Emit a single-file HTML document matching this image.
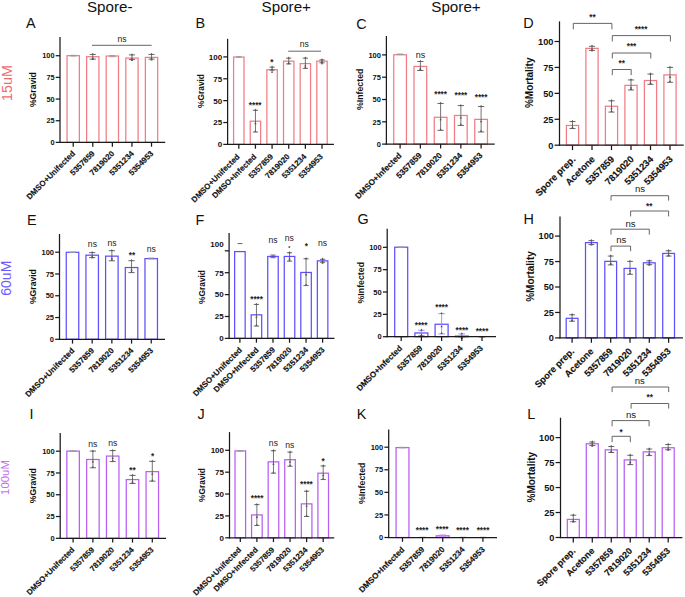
<!DOCTYPE html>
<html><head><meta charset="utf-8"><style>
html,body{margin:0;padding:0;background:#fff;overflow:hidden;}
svg{display:block;font-family:"Liberation Sans", sans-serif;}
.xl{stroke:#111;stroke-width:0.15px;}
</style></head><body>
<svg width="685" height="597" viewBox="0 0 685 597">
<rect width="685" height="597" fill="#fff"/>
<rect x="67.05" y="55.67" width="12.30" height="86.73" fill="#fff" stroke="#f17c85" stroke-width="1.25"/>
<rect x="86.63" y="56.72" width="12.30" height="85.68" fill="#fff" stroke="#f17c85" stroke-width="1.25"/>
<rect x="106.21" y="56.02" width="12.30" height="86.38" fill="#fff" stroke="#f17c85" stroke-width="1.25"/>
<rect x="125.79" y="58.10" width="12.30" height="84.30" fill="#fff" stroke="#f17c85" stroke-width="1.25"/>
<rect x="145.37" y="57.41" width="12.30" height="84.99" fill="#fff" stroke="#f17c85" stroke-width="1.25"/>
<line x1="73.20" y1="55.33" x2="73.20" y2="56.02" stroke="#9a9a9a" stroke-width="0.8"/>
<line x1="70.12" y1="55.33" x2="76.28" y2="55.33" stroke="#9a9a9a" stroke-width="0.85"/>
<line x1="70.12" y1="56.02" x2="76.28" y2="56.02" stroke="#9a9a9a" stroke-width="0.85"/>
<line x1="92.78" y1="54.46" x2="92.78" y2="59.15" stroke="#505050" stroke-width="0.8"/>
<line x1="89.70" y1="54.46" x2="95.86" y2="54.46" stroke="#505050" stroke-width="0.85"/>
<line x1="89.70" y1="59.15" x2="95.86" y2="59.15" stroke="#505050" stroke-width="0.85"/>
<path d="M91.58,54.86L93.98,54.86L92.78,52.76Z" fill="#555"/>
<path d="M91.58,59.72L93.98,59.72L92.78,57.62Z" fill="#555"/>
<path d="M91.58,59.15L93.98,59.15L92.78,57.05Z" fill="#555"/>
<line x1="112.36" y1="55.59" x2="112.36" y2="56.72" stroke="#9a9a9a" stroke-width="0.8"/>
<line x1="109.28" y1="55.59" x2="115.44" y2="55.59" stroke="#9a9a9a" stroke-width="0.85"/>
<line x1="109.28" y1="56.72" x2="115.44" y2="56.72" stroke="#9a9a9a" stroke-width="0.85"/>
<line x1="131.94" y1="54.89" x2="131.94" y2="59.58" stroke="#505050" stroke-width="0.8"/>
<line x1="128.87" y1="54.89" x2="135.01" y2="54.89" stroke="#505050" stroke-width="0.85"/>
<line x1="128.87" y1="59.58" x2="135.01" y2="59.58" stroke="#505050" stroke-width="0.85"/>
<path d="M130.74,55.29L133.14,55.29L131.94,53.19Z" fill="#555"/>
<path d="M130.74,61.10L133.14,61.10L131.94,59.00Z" fill="#555"/>
<path d="M130.74,59.58L133.14,59.58L131.94,57.48Z" fill="#555"/>
<line x1="151.52" y1="54.46" x2="151.52" y2="59.15" stroke="#505050" stroke-width="0.8"/>
<line x1="148.44" y1="54.46" x2="154.59" y2="54.46" stroke="#505050" stroke-width="0.85"/>
<line x1="148.44" y1="59.15" x2="154.59" y2="59.15" stroke="#505050" stroke-width="0.85"/>
<path d="M150.32,54.86L152.72,54.86L151.52,52.76Z" fill="#555"/>
<path d="M150.32,60.41L152.72,60.41L151.52,58.31Z" fill="#555"/>
<path d="M150.32,59.15L152.72,59.15L151.52,57.05Z" fill="#555"/>
<line x1="60.00" y1="37.00" x2="60.00" y2="143.03" stroke="#1a1a1a" stroke-width="1.25"/>
<line x1="59.38" y1="142.40" x2="165.20" y2="142.40" stroke="#1a1a1a" stroke-width="1.25"/>
<line x1="55.70" y1="142.40" x2="60.00" y2="142.40" stroke="#1a1a1a" stroke-width="1.25"/>
<text x="54.50" y="145.03" font-size="7.3" text-anchor="end" font-weight="bold" fill="#111">0</text>
<line x1="55.70" y1="120.73" x2="60.00" y2="120.73" stroke="#1a1a1a" stroke-width="1.25"/>
<text x="54.50" y="123.36" font-size="7.3" text-anchor="end" font-weight="bold" fill="#111">25</text>
<line x1="55.70" y1="99.06" x2="60.00" y2="99.06" stroke="#1a1a1a" stroke-width="1.25"/>
<text x="54.50" y="101.69" font-size="7.3" text-anchor="end" font-weight="bold" fill="#111">50</text>
<line x1="55.70" y1="77.39" x2="60.00" y2="77.39" stroke="#1a1a1a" stroke-width="1.25"/>
<text x="54.50" y="80.02" font-size="7.3" text-anchor="end" font-weight="bold" fill="#111">75</text>
<line x1="55.70" y1="55.72" x2="60.00" y2="55.72" stroke="#1a1a1a" stroke-width="1.25"/>
<text x="54.50" y="58.35" font-size="7.3" text-anchor="end" font-weight="bold" fill="#111">100</text>
<line x1="73.20" y1="142.40" x2="73.20" y2="146.70" stroke="#1a1a1a" stroke-width="1.25"/>
<line x1="92.78" y1="142.40" x2="92.78" y2="146.70" stroke="#1a1a1a" stroke-width="1.25"/>
<line x1="112.36" y1="142.40" x2="112.36" y2="146.70" stroke="#1a1a1a" stroke-width="1.25"/>
<line x1="131.94" y1="142.40" x2="131.94" y2="146.70" stroke="#1a1a1a" stroke-width="1.25"/>
<line x1="151.52" y1="142.40" x2="151.52" y2="146.70" stroke="#1a1a1a" stroke-width="1.25"/>
<text x="75.70" y="154.00" font-size="7.99" text-anchor="end" font-weight="bold" fill="#111" transform="rotate(-45 75.70 154.00)" class="xl">DMSO+Unifected</text>
<text x="95.28" y="154.00" font-size="7.99" text-anchor="end" font-weight="bold" fill="#111" transform="rotate(-45 95.28 154.00)" class="xl">5357859</text>
<text x="114.86" y="154.00" font-size="7.99" text-anchor="end" font-weight="bold" fill="#111" transform="rotate(-45 114.86 154.00)" class="xl">7819020</text>
<text x="134.44" y="154.00" font-size="7.99" text-anchor="end" font-weight="bold" fill="#111" transform="rotate(-45 134.44 154.00)" class="xl">5351234</text>
<text x="154.02" y="154.00" font-size="7.99" text-anchor="end" font-weight="bold" fill="#111" transform="rotate(-45 154.02 154.00)" class="xl">5354953</text>
<text x="36.00" y="89.60" font-size="8.6" text-anchor="middle" font-weight="bold" fill="#111" transform="rotate(-90 36.00 89.60)">%Gravid</text>
<text x="30.90" y="28.40" font-size="14.4" text-anchor="middle" font-weight="normal" fill="#111">A</text>
<text x="122.00" y="41.74" font-size="8.6" text-anchor="middle" font-weight="normal" fill="#222">ns</text>
<line x1="92.00" y1="45.30" x2="151.60" y2="45.30" stroke="#666" stroke-width="1.0"/>
<rect x="233.60" y="57.04" width="10.40" height="87.36" fill="#fff" stroke="#f17c85" stroke-width="1.25"/>
<rect x="250.24" y="121.20" width="10.40" height="23.20" fill="#fff" stroke="#f17c85" stroke-width="1.25"/>
<rect x="266.88" y="69.70" width="10.40" height="74.70" fill="#fff" stroke="#f17c85" stroke-width="1.25"/>
<rect x="283.52" y="61.14" width="10.40" height="83.26" fill="#fff" stroke="#f17c85" stroke-width="1.25"/>
<rect x="300.16" y="63.58" width="10.40" height="80.82" fill="#fff" stroke="#f17c85" stroke-width="1.25"/>
<rect x="316.80" y="61.14" width="10.40" height="83.26" fill="#fff" stroke="#f17c85" stroke-width="1.25"/>
<line x1="238.80" y1="56.60" x2="238.80" y2="57.30" stroke="#9a9a9a" stroke-width="0.8"/>
<line x1="236.20" y1="56.60" x2="241.40" y2="56.60" stroke="#9a9a9a" stroke-width="0.85"/>
<line x1="236.20" y1="57.30" x2="241.40" y2="57.30" stroke="#9a9a9a" stroke-width="0.85"/>
<line x1="255.44" y1="110.29" x2="255.44" y2="132.03" stroke="#505050" stroke-width="0.8"/>
<line x1="252.84" y1="110.29" x2="258.04" y2="110.29" stroke="#505050" stroke-width="0.85"/>
<line x1="252.84" y1="132.03" x2="258.04" y2="132.03" stroke="#505050" stroke-width="0.85"/>
<path d="M254.24,110.69L256.64,110.69L255.44,108.59Z" fill="#555"/>
<path d="M254.24,124.20L256.64,124.20L255.44,122.10Z" fill="#555"/>
<path d="M254.24,132.03L256.64,132.03L255.44,129.93Z" fill="#555"/>
<line x1="272.08" y1="67.16" x2="272.08" y2="70.13" stroke="#505050" stroke-width="0.8"/>
<line x1="269.48" y1="67.16" x2="274.68" y2="67.16" stroke="#505050" stroke-width="0.85"/>
<line x1="269.48" y1="70.13" x2="274.68" y2="70.13" stroke="#505050" stroke-width="0.85"/>
<path d="M270.88,67.56L273.28,67.56L272.08,65.46Z" fill="#555"/>
<path d="M270.88,72.70L273.28,72.70L272.08,70.60Z" fill="#555"/>
<path d="M270.88,70.13L273.28,70.13L272.08,68.03Z" fill="#555"/>
<line x1="288.72" y1="58.17" x2="288.72" y2="63.93" stroke="#505050" stroke-width="0.8"/>
<line x1="286.12" y1="58.17" x2="291.32" y2="58.17" stroke="#505050" stroke-width="0.85"/>
<line x1="286.12" y1="63.93" x2="291.32" y2="63.93" stroke="#505050" stroke-width="0.85"/>
<path d="M287.52,58.57L289.92,58.57L288.72,56.47Z" fill="#555"/>
<path d="M287.52,64.14L289.92,64.14L288.72,62.04Z" fill="#555"/>
<path d="M287.52,63.93L289.92,63.93L288.72,61.83Z" fill="#555"/>
<line x1="305.36" y1="58.17" x2="305.36" y2="68.39" stroke="#505050" stroke-width="0.8"/>
<line x1="302.76" y1="58.17" x2="307.96" y2="58.17" stroke="#505050" stroke-width="0.85"/>
<line x1="302.76" y1="68.39" x2="307.96" y2="68.39" stroke="#505050" stroke-width="0.85"/>
<path d="M304.16,58.57L306.56,58.57L305.36,56.47Z" fill="#555"/>
<path d="M304.16,66.58L306.56,66.58L305.36,64.48Z" fill="#555"/>
<path d="M304.16,68.39L306.56,68.39L305.36,66.29Z" fill="#555"/>
<line x1="322.00" y1="59.92" x2="322.00" y2="62.80" stroke="#505050" stroke-width="0.8"/>
<line x1="319.40" y1="59.92" x2="324.60" y2="59.92" stroke="#505050" stroke-width="0.85"/>
<line x1="319.40" y1="62.80" x2="324.60" y2="62.80" stroke="#505050" stroke-width="0.85"/>
<path d="M320.80,60.32L323.20,60.32L322.00,58.22Z" fill="#555"/>
<path d="M320.80,64.14L323.20,64.14L322.00,62.04Z" fill="#555"/>
<path d="M320.80,62.80L323.20,62.80L322.00,60.70Z" fill="#555"/>
<line x1="227.60" y1="38.80" x2="227.60" y2="145.03" stroke="#1a1a1a" stroke-width="1.25"/>
<line x1="226.97" y1="144.40" x2="333.90" y2="144.40" stroke="#1a1a1a" stroke-width="1.25"/>
<line x1="223.30" y1="144.40" x2="227.60" y2="144.40" stroke="#1a1a1a" stroke-width="1.25"/>
<text x="222.10" y="147.28" font-size="8.0" text-anchor="end" font-weight="bold" fill="#111">0</text>
<line x1="223.30" y1="122.53" x2="227.60" y2="122.53" stroke="#1a1a1a" stroke-width="1.25"/>
<text x="222.10" y="125.41" font-size="8.0" text-anchor="end" font-weight="bold" fill="#111">25</text>
<line x1="223.30" y1="100.65" x2="227.60" y2="100.65" stroke="#1a1a1a" stroke-width="1.25"/>
<text x="222.10" y="103.53" font-size="8.0" text-anchor="end" font-weight="bold" fill="#111">50</text>
<line x1="223.30" y1="78.78" x2="227.60" y2="78.78" stroke="#1a1a1a" stroke-width="1.25"/>
<text x="222.10" y="81.66" font-size="8.0" text-anchor="end" font-weight="bold" fill="#111">75</text>
<line x1="223.30" y1="56.90" x2="227.60" y2="56.90" stroke="#1a1a1a" stroke-width="1.25"/>
<text x="222.10" y="59.78" font-size="8.0" text-anchor="end" font-weight="bold" fill="#111">100</text>
<line x1="238.80" y1="144.40" x2="238.80" y2="148.70" stroke="#1a1a1a" stroke-width="1.25"/>
<line x1="255.44" y1="144.40" x2="255.44" y2="148.70" stroke="#1a1a1a" stroke-width="1.25"/>
<line x1="272.08" y1="144.40" x2="272.08" y2="148.70" stroke="#1a1a1a" stroke-width="1.25"/>
<line x1="288.72" y1="144.40" x2="288.72" y2="148.70" stroke="#1a1a1a" stroke-width="1.25"/>
<line x1="305.36" y1="144.40" x2="305.36" y2="148.70" stroke="#1a1a1a" stroke-width="1.25"/>
<line x1="322.00" y1="144.40" x2="322.00" y2="148.70" stroke="#1a1a1a" stroke-width="1.25"/>
<text x="240.30" y="157.20" font-size="7.95" text-anchor="end" font-weight="bold" fill="#111" transform="rotate(-45 240.30 157.20)" class="xl">DMSO+Unifected</text>
<text x="256.94" y="157.20" font-size="7.95" text-anchor="end" font-weight="bold" fill="#111" transform="rotate(-45 256.94 157.20)" class="xl">DMSO+Infected</text>
<text x="273.58" y="157.20" font-size="7.95" text-anchor="end" font-weight="bold" fill="#111" transform="rotate(-45 273.58 157.20)" class="xl">5357859</text>
<text x="290.22" y="157.20" font-size="7.95" text-anchor="end" font-weight="bold" fill="#111" transform="rotate(-45 290.22 157.20)" class="xl">7819020</text>
<text x="306.86" y="157.20" font-size="7.95" text-anchor="end" font-weight="bold" fill="#111" transform="rotate(-45 306.86 157.20)" class="xl">5351234</text>
<text x="323.50" y="157.20" font-size="7.95" text-anchor="end" font-weight="bold" fill="#111" transform="rotate(-45 323.50 157.20)" class="xl">5354953</text>
<text x="204.00" y="91.00" font-size="8.4" text-anchor="middle" font-weight="bold" fill="#111" transform="rotate(-90 204.00 91.00)">%Gravid</text>
<text x="200.20" y="28.40" font-size="14.4" text-anchor="middle" font-weight="normal" fill="#111">B</text>
<text x="255.20" y="107.61" font-size="8.2" text-anchor="middle" font-weight="bold" fill="#222">****</text>
<text x="271.90" y="64.91" font-size="8.2" text-anchor="middle" font-weight="bold" fill="#222">*</text>
<text x="304.20" y="47.24" font-size="8.6" text-anchor="middle" font-weight="normal" fill="#222">ns</text>
<line x1="288.20" y1="51.20" x2="321.00" y2="51.20" stroke="#666" stroke-width="1.0"/>
<rect x="393.75" y="54.75" width="12.70" height="89.35" fill="#fff" stroke="#f17c85" stroke-width="1.25"/>
<rect x="414.00" y="66.45" width="12.70" height="77.65" fill="#fff" stroke="#f17c85" stroke-width="1.25"/>
<rect x="434.25" y="117.30" width="12.70" height="26.80" fill="#fff" stroke="#f17c85" stroke-width="1.25"/>
<rect x="454.50" y="115.50" width="12.70" height="28.60" fill="#fff" stroke="#f17c85" stroke-width="1.25"/>
<rect x="474.75" y="119.37" width="12.70" height="24.73" fill="#fff" stroke="#f17c85" stroke-width="1.25"/>
<line x1="400.10" y1="54.03" x2="400.10" y2="54.57" stroke="#9a9a9a" stroke-width="0.8"/>
<line x1="396.93" y1="54.03" x2="403.28" y2="54.03" stroke="#9a9a9a" stroke-width="0.85"/>
<line x1="396.93" y1="54.57" x2="403.28" y2="54.57" stroke="#9a9a9a" stroke-width="0.85"/>
<line x1="420.35" y1="61.50" x2="420.35" y2="70.50" stroke="#505050" stroke-width="0.8"/>
<line x1="417.18" y1="61.50" x2="423.53" y2="61.50" stroke="#505050" stroke-width="0.85"/>
<line x1="417.18" y1="70.50" x2="423.53" y2="70.50" stroke="#505050" stroke-width="0.85"/>
<path d="M419.15,61.90L421.55,61.90L420.35,59.80Z" fill="#555"/>
<path d="M419.15,69.45L421.55,69.45L420.35,67.35Z" fill="#555"/>
<path d="M419.15,70.50L421.55,70.50L420.35,68.40Z" fill="#555"/>
<line x1="440.60" y1="103.44" x2="440.60" y2="130.35" stroke="#505050" stroke-width="0.8"/>
<line x1="437.43" y1="103.44" x2="443.78" y2="103.44" stroke="#505050" stroke-width="0.85"/>
<line x1="437.43" y1="130.35" x2="443.78" y2="130.35" stroke="#505050" stroke-width="0.85"/>
<path d="M439.40,103.84L441.80,103.84L440.60,101.74Z" fill="#555"/>
<path d="M439.40,120.30L441.80,120.30L440.60,118.20Z" fill="#555"/>
<path d="M439.40,130.35L441.80,130.35L440.60,128.25Z" fill="#555"/>
<line x1="460.85" y1="105.60" x2="460.85" y2="125.40" stroke="#505050" stroke-width="0.8"/>
<line x1="457.68" y1="105.60" x2="464.03" y2="105.60" stroke="#505050" stroke-width="0.85"/>
<line x1="457.68" y1="125.40" x2="464.03" y2="125.40" stroke="#505050" stroke-width="0.85"/>
<path d="M459.65,106.00L462.05,106.00L460.85,103.90Z" fill="#555"/>
<path d="M459.65,118.50L462.05,118.50L460.85,116.40Z" fill="#555"/>
<path d="M459.65,125.40L462.05,125.40L460.85,123.30Z" fill="#555"/>
<line x1="481.10" y1="106.50" x2="481.10" y2="131.97" stroke="#505050" stroke-width="0.8"/>
<line x1="477.93" y1="106.50" x2="484.28" y2="106.50" stroke="#505050" stroke-width="0.85"/>
<line x1="477.93" y1="131.97" x2="484.28" y2="131.97" stroke="#505050" stroke-width="0.85"/>
<path d="M479.90,106.90L482.30,106.90L481.10,104.80Z" fill="#555"/>
<path d="M479.90,122.37L482.30,122.37L481.10,120.27Z" fill="#555"/>
<path d="M479.90,131.97L482.30,131.97L481.10,129.87Z" fill="#555"/>
<line x1="386.40" y1="36.00" x2="386.40" y2="144.72" stroke="#1a1a1a" stroke-width="1.25"/>
<line x1="385.77" y1="144.10" x2="494.70" y2="144.10" stroke="#1a1a1a" stroke-width="1.25"/>
<line x1="382.10" y1="144.10" x2="386.40" y2="144.10" stroke="#1a1a1a" stroke-width="1.25"/>
<text x="380.90" y="146.80" font-size="7.5" text-anchor="end" font-weight="bold" fill="#111">0</text>
<line x1="382.10" y1="121.80" x2="386.40" y2="121.80" stroke="#1a1a1a" stroke-width="1.25"/>
<text x="380.90" y="124.50" font-size="7.5" text-anchor="end" font-weight="bold" fill="#111">25</text>
<line x1="382.10" y1="99.50" x2="386.40" y2="99.50" stroke="#1a1a1a" stroke-width="1.25"/>
<text x="380.90" y="102.20" font-size="7.5" text-anchor="end" font-weight="bold" fill="#111">50</text>
<line x1="382.10" y1="77.20" x2="386.40" y2="77.20" stroke="#1a1a1a" stroke-width="1.25"/>
<text x="380.90" y="79.90" font-size="7.5" text-anchor="end" font-weight="bold" fill="#111">75</text>
<line x1="382.10" y1="54.90" x2="386.40" y2="54.90" stroke="#1a1a1a" stroke-width="1.25"/>
<text x="380.90" y="57.60" font-size="7.5" text-anchor="end" font-weight="bold" fill="#111">100</text>
<line x1="400.10" y1="144.10" x2="400.10" y2="148.40" stroke="#1a1a1a" stroke-width="1.25"/>
<line x1="420.35" y1="144.10" x2="420.35" y2="148.40" stroke="#1a1a1a" stroke-width="1.25"/>
<line x1="440.60" y1="144.10" x2="440.60" y2="148.40" stroke="#1a1a1a" stroke-width="1.25"/>
<line x1="460.85" y1="144.10" x2="460.85" y2="148.40" stroke="#1a1a1a" stroke-width="1.25"/>
<line x1="481.10" y1="144.10" x2="481.10" y2="148.40" stroke="#1a1a1a" stroke-width="1.25"/>
<text x="402.00" y="156.10" font-size="8.29" text-anchor="end" font-weight="bold" fill="#111" transform="rotate(-45 402.00 156.10)" class="xl">DMSO+Infected</text>
<text x="422.25" y="156.10" font-size="8.29" text-anchor="end" font-weight="bold" fill="#111" transform="rotate(-45 422.25 156.10)" class="xl">5357859</text>
<text x="442.50" y="156.10" font-size="8.29" text-anchor="end" font-weight="bold" fill="#111" transform="rotate(-45 442.50 156.10)" class="xl">7819020</text>
<text x="462.75" y="156.10" font-size="8.29" text-anchor="end" font-weight="bold" fill="#111" transform="rotate(-45 462.75 156.10)" class="xl">5351234</text>
<text x="483.00" y="156.10" font-size="8.29" text-anchor="end" font-weight="bold" fill="#111" transform="rotate(-45 483.00 156.10)" class="xl">5354953</text>
<text x="363.20" y="89.30" font-size="8.8" text-anchor="middle" font-weight="bold" fill="#111" transform="rotate(-90 363.20 89.30)">%Infected</text>
<text x="361.50" y="29.20" font-size="14.4" text-anchor="middle" font-weight="normal" fill="#111">C</text>
<text x="420.40" y="57.64" font-size="9.0" text-anchor="middle" font-weight="normal" fill="#222">ns</text>
<text x="440.60" y="97.01" font-size="8.2" text-anchor="middle" font-weight="bold" fill="#222">****</text>
<text x="460.90" y="98.31" font-size="8.2" text-anchor="middle" font-weight="bold" fill="#222">****</text>
<text x="481.10" y="100.01" font-size="8.2" text-anchor="middle" font-weight="bold" fill="#222">****</text>
<rect x="566.40" y="125.47" width="12.20" height="19.73" fill="#fff" stroke="#f17c85" stroke-width="1.25"/>
<rect x="585.90" y="48.37" width="12.20" height="96.83" fill="#fff" stroke="#f17c85" stroke-width="1.25"/>
<rect x="605.40" y="106.24" width="12.20" height="38.96" fill="#fff" stroke="#f17c85" stroke-width="1.25"/>
<rect x="624.90" y="85.38" width="12.20" height="59.82" fill="#fff" stroke="#f17c85" stroke-width="1.25"/>
<rect x="644.40" y="80.54" width="12.20" height="64.66" fill="#fff" stroke="#f17c85" stroke-width="1.25"/>
<rect x="663.90" y="74.89" width="12.20" height="70.31" fill="#fff" stroke="#f17c85" stroke-width="1.25"/>
<line x1="572.50" y1="121.56" x2="572.50" y2="128.55" stroke="#505050" stroke-width="0.8"/>
<line x1="569.45" y1="121.56" x2="575.55" y2="121.56" stroke="#505050" stroke-width="0.85"/>
<line x1="569.45" y1="128.55" x2="575.55" y2="128.55" stroke="#505050" stroke-width="0.85"/>
<path d="M571.30,121.96L573.70,121.96L572.50,119.86Z" fill="#555"/>
<path d="M571.30,128.47L573.70,128.47L572.50,126.37Z" fill="#555"/>
<path d="M571.30,128.55L573.70,128.55L572.50,126.45Z" fill="#555"/>
<line x1="592.00" y1="46.31" x2="592.00" y2="50.42" stroke="#505050" stroke-width="0.8"/>
<line x1="588.95" y1="46.31" x2="595.05" y2="46.31" stroke="#505050" stroke-width="0.85"/>
<line x1="588.95" y1="50.42" x2="595.05" y2="50.42" stroke="#505050" stroke-width="0.85"/>
<path d="M590.80,46.71L593.20,46.71L592.00,44.61Z" fill="#555"/>
<path d="M590.80,51.37L593.20,51.37L592.00,49.27Z" fill="#555"/>
<path d="M590.80,50.42L593.20,50.42L592.00,48.32Z" fill="#555"/>
<line x1="611.50" y1="100.80" x2="611.50" y2="112.10" stroke="#505050" stroke-width="0.8"/>
<line x1="608.45" y1="100.80" x2="614.55" y2="100.80" stroke="#505050" stroke-width="0.85"/>
<line x1="608.45" y1="112.10" x2="614.55" y2="112.10" stroke="#505050" stroke-width="0.85"/>
<path d="M610.30,101.20L612.70,101.20L611.50,99.10Z" fill="#555"/>
<path d="M610.30,109.24L612.70,109.24L611.50,107.14Z" fill="#555"/>
<path d="M610.30,112.10L612.70,112.10L611.50,110.00Z" fill="#555"/>
<line x1="631.00" y1="79.93" x2="631.00" y2="90.00" stroke="#505050" stroke-width="0.8"/>
<line x1="627.95" y1="79.93" x2="634.05" y2="79.93" stroke="#505050" stroke-width="0.85"/>
<line x1="627.95" y1="90.00" x2="634.05" y2="90.00" stroke="#505050" stroke-width="0.85"/>
<path d="M629.80,80.33L632.20,80.33L631.00,78.23Z" fill="#555"/>
<path d="M629.80,88.38L632.20,88.38L631.00,86.28Z" fill="#555"/>
<path d="M629.80,90.00L632.20,90.00L631.00,87.90Z" fill="#555"/>
<line x1="650.50" y1="74.07" x2="650.50" y2="84.35" stroke="#505050" stroke-width="0.8"/>
<line x1="647.45" y1="74.07" x2="653.55" y2="74.07" stroke="#505050" stroke-width="0.85"/>
<line x1="647.45" y1="84.35" x2="653.55" y2="84.35" stroke="#505050" stroke-width="0.85"/>
<path d="M649.30,74.47L651.70,74.47L650.50,72.37Z" fill="#555"/>
<path d="M649.30,83.54L651.70,83.54L650.50,81.44Z" fill="#555"/>
<path d="M649.30,84.35L651.70,84.35L650.50,82.25Z" fill="#555"/>
<line x1="670.00" y1="67.39" x2="670.00" y2="82.29" stroke="#505050" stroke-width="0.8"/>
<line x1="666.95" y1="67.39" x2="673.05" y2="67.39" stroke="#505050" stroke-width="0.85"/>
<line x1="666.95" y1="82.29" x2="673.05" y2="82.29" stroke="#505050" stroke-width="0.85"/>
<path d="M668.80,67.79L671.20,67.79L670.00,65.69Z" fill="#555"/>
<path d="M668.80,77.89L671.20,77.89L670.00,75.79Z" fill="#555"/>
<path d="M668.80,82.29L671.20,82.29L670.00,80.19Z" fill="#555"/>
<line x1="559.50" y1="21.40" x2="559.50" y2="145.82" stroke="#1a1a1a" stroke-width="1.25"/>
<line x1="558.88" y1="145.20" x2="683.70" y2="145.20" stroke="#1a1a1a" stroke-width="1.25"/>
<line x1="554.60" y1="145.20" x2="559.50" y2="145.20" stroke="#1a1a1a" stroke-width="1.25"/>
<text x="553.40" y="148.51" font-size="9.2" text-anchor="end" font-weight="bold" fill="#111">0</text>
<line x1="554.60" y1="119.27" x2="559.50" y2="119.27" stroke="#1a1a1a" stroke-width="1.25"/>
<text x="553.40" y="122.59" font-size="9.2" text-anchor="end" font-weight="bold" fill="#111">25</text>
<line x1="554.60" y1="93.35" x2="559.50" y2="93.35" stroke="#1a1a1a" stroke-width="1.25"/>
<text x="553.40" y="96.66" font-size="9.2" text-anchor="end" font-weight="bold" fill="#111">50</text>
<line x1="554.60" y1="67.42" x2="559.50" y2="67.42" stroke="#1a1a1a" stroke-width="1.25"/>
<text x="553.40" y="70.74" font-size="9.2" text-anchor="end" font-weight="bold" fill="#111">75</text>
<line x1="554.60" y1="41.50" x2="559.50" y2="41.50" stroke="#1a1a1a" stroke-width="1.25"/>
<text x="553.40" y="44.81" font-size="9.2" text-anchor="end" font-weight="bold" fill="#111">100</text>
<line x1="572.50" y1="145.20" x2="572.50" y2="150.10" stroke="#1a1a1a" stroke-width="1.25"/>
<line x1="592.00" y1="145.20" x2="592.00" y2="150.10" stroke="#1a1a1a" stroke-width="1.25"/>
<line x1="611.50" y1="145.20" x2="611.50" y2="150.10" stroke="#1a1a1a" stroke-width="1.25"/>
<line x1="631.00" y1="145.20" x2="631.00" y2="150.10" stroke="#1a1a1a" stroke-width="1.25"/>
<line x1="650.50" y1="145.20" x2="650.50" y2="150.10" stroke="#1a1a1a" stroke-width="1.25"/>
<line x1="670.00" y1="145.20" x2="670.00" y2="150.10" stroke="#1a1a1a" stroke-width="1.25"/>
<text x="576.00" y="159.80" font-size="9.38" text-anchor="end" font-weight="bold" fill="#111" transform="rotate(-45 576.00 159.80)" class="xl">Spore prep.</text>
<text x="595.50" y="159.80" font-size="9.38" text-anchor="end" font-weight="bold" fill="#111" transform="rotate(-45 595.50 159.80)" class="xl">Acetone</text>
<text x="615.00" y="159.80" font-size="9.38" text-anchor="end" font-weight="bold" fill="#111" transform="rotate(-45 615.00 159.80)" class="xl">5357859</text>
<text x="634.50" y="159.80" font-size="9.38" text-anchor="end" font-weight="bold" fill="#111" transform="rotate(-45 634.50 159.80)" class="xl">7819020</text>
<text x="654.00" y="159.80" font-size="9.38" text-anchor="end" font-weight="bold" fill="#111" transform="rotate(-45 654.00 159.80)" class="xl">5351234</text>
<text x="673.50" y="159.80" font-size="9.38" text-anchor="end" font-weight="bold" fill="#111" transform="rotate(-45 673.50 159.80)" class="xl">5354953</text>
<text x="533.00" y="82.80" font-size="10" text-anchor="middle" font-weight="bold" fill="#111" transform="rotate(-90 533.00 82.80)">%Mortality</text>
<text x="528.50" y="28.40" font-size="14.4" text-anchor="middle" font-weight="normal" fill="#111">D</text>
<text x="592.50" y="19.91" font-size="8.2" text-anchor="middle" font-weight="bold" fill="#222">**</text>
<text x="641.00" y="32.31" font-size="8.2" text-anchor="middle" font-weight="bold" fill="#222">****</text>
<text x="631.50" y="49.31" font-size="8.2" text-anchor="middle" font-weight="bold" fill="#222">***</text>
<text x="621.80" y="65.91" font-size="8.2" text-anchor="middle" font-weight="bold" fill="#222">**</text>
<polyline points="573.30,29.30 573.30,23.40 611.90,23.40 611.90,29.30" fill="none" stroke="#555" stroke-width="0.9"/>
<polyline points="612.30,41.40 612.30,35.60 670.40,35.60 670.40,41.40" fill="none" stroke="#555" stroke-width="0.9"/>
<polyline points="612.30,58.50 612.30,53.00 650.80,53.00 650.80,58.50" fill="none" stroke="#555" stroke-width="0.9"/>
<polyline points="612.30,75.10 612.30,69.50 631.20,69.50 631.20,75.10" fill="none" stroke="#555" stroke-width="0.9"/>
<rect x="66.25" y="252.30" width="12.50" height="87.00" fill="#fff" stroke="#5f50ff" stroke-width="1.25"/>
<rect x="85.93" y="255.19" width="12.50" height="84.11" fill="#fff" stroke="#5f50ff" stroke-width="1.25"/>
<rect x="105.61" y="256.15" width="12.50" height="83.15" fill="#fff" stroke="#5f50ff" stroke-width="1.25"/>
<rect x="125.29" y="267.54" width="12.50" height="71.76" fill="#fff" stroke="#5f50ff" stroke-width="1.25"/>
<rect x="144.97" y="258.61" width="12.50" height="80.69" fill="#fff" stroke="#5f50ff" stroke-width="1.25"/>
<line x1="72.50" y1="252.04" x2="72.50" y2="252.56" stroke="#9a9a9a" stroke-width="0.8"/>
<line x1="69.38" y1="252.04" x2="75.62" y2="252.04" stroke="#9a9a9a" stroke-width="0.85"/>
<line x1="69.38" y1="252.56" x2="75.62" y2="252.56" stroke="#9a9a9a" stroke-width="0.85"/>
<line x1="92.18" y1="252.65" x2="92.18" y2="257.64" stroke="#505050" stroke-width="0.8"/>
<line x1="89.06" y1="252.65" x2="95.31" y2="252.65" stroke="#505050" stroke-width="0.85"/>
<line x1="89.06" y1="257.64" x2="95.31" y2="257.64" stroke="#505050" stroke-width="0.85"/>
<path d="M90.98,253.05L93.38,253.05L92.18,250.95Z" fill="#555"/>
<path d="M90.98,258.19L93.38,258.19L92.18,256.09Z" fill="#555"/>
<path d="M90.98,257.64L93.38,257.64L92.18,255.54Z" fill="#555"/>
<line x1="111.86" y1="250.72" x2="111.86" y2="260.80" stroke="#505050" stroke-width="0.8"/>
<line x1="108.73" y1="250.72" x2="114.98" y2="250.72" stroke="#505050" stroke-width="0.85"/>
<line x1="108.73" y1="260.80" x2="114.98" y2="260.80" stroke="#505050" stroke-width="0.85"/>
<path d="M110.66,251.12L113.06,251.12L111.86,249.02Z" fill="#555"/>
<path d="M110.66,259.15L113.06,259.15L111.86,257.05Z" fill="#555"/>
<path d="M110.66,260.80L113.06,260.80L111.86,258.70Z" fill="#555"/>
<line x1="131.54" y1="260.71" x2="131.54" y2="272.62" stroke="#505050" stroke-width="0.8"/>
<line x1="128.41" y1="260.71" x2="134.66" y2="260.71" stroke="#505050" stroke-width="0.85"/>
<line x1="128.41" y1="272.62" x2="134.66" y2="272.62" stroke="#505050" stroke-width="0.85"/>
<path d="M130.34,261.11L132.74,261.11L131.54,259.01Z" fill="#555"/>
<path d="M130.34,270.54L132.74,270.54L131.54,268.44Z" fill="#555"/>
<path d="M130.34,272.62L132.74,272.62L131.54,270.52Z" fill="#555"/>
<line x1="151.22" y1="257.99" x2="151.22" y2="259.05" stroke="#9a9a9a" stroke-width="0.8"/>
<line x1="148.09" y1="257.99" x2="154.34" y2="257.99" stroke="#9a9a9a" stroke-width="0.85"/>
<line x1="148.09" y1="259.05" x2="154.34" y2="259.05" stroke="#9a9a9a" stroke-width="0.85"/>
<line x1="59.50" y1="234.00" x2="59.50" y2="339.93" stroke="#1a1a1a" stroke-width="1.25"/>
<line x1="58.88" y1="339.30" x2="165.00" y2="339.30" stroke="#1a1a1a" stroke-width="1.25"/>
<line x1="55.20" y1="339.30" x2="59.50" y2="339.30" stroke="#1a1a1a" stroke-width="1.25"/>
<text x="54.00" y="342.00" font-size="7.5" text-anchor="end" font-weight="bold" fill="#111">0</text>
<line x1="55.20" y1="317.53" x2="59.50" y2="317.53" stroke="#1a1a1a" stroke-width="1.25"/>
<text x="54.00" y="320.23" font-size="7.5" text-anchor="end" font-weight="bold" fill="#111">25</text>
<line x1="55.20" y1="295.75" x2="59.50" y2="295.75" stroke="#1a1a1a" stroke-width="1.25"/>
<text x="54.00" y="298.45" font-size="7.5" text-anchor="end" font-weight="bold" fill="#111">50</text>
<line x1="55.20" y1="273.98" x2="59.50" y2="273.98" stroke="#1a1a1a" stroke-width="1.25"/>
<text x="54.00" y="276.68" font-size="7.5" text-anchor="end" font-weight="bold" fill="#111">75</text>
<line x1="55.20" y1="252.20" x2="59.50" y2="252.20" stroke="#1a1a1a" stroke-width="1.25"/>
<text x="54.00" y="254.90" font-size="7.5" text-anchor="end" font-weight="bold" fill="#111">100</text>
<line x1="72.50" y1="339.30" x2="72.50" y2="343.60" stroke="#1a1a1a" stroke-width="1.25"/>
<line x1="92.18" y1="339.30" x2="92.18" y2="343.60" stroke="#1a1a1a" stroke-width="1.25"/>
<line x1="111.86" y1="339.30" x2="111.86" y2="343.60" stroke="#1a1a1a" stroke-width="1.25"/>
<line x1="131.54" y1="339.30" x2="131.54" y2="343.60" stroke="#1a1a1a" stroke-width="1.25"/>
<line x1="151.22" y1="339.30" x2="151.22" y2="343.60" stroke="#1a1a1a" stroke-width="1.25"/>
<text x="75.00" y="351.10" font-size="8.08" text-anchor="end" font-weight="bold" fill="#111" transform="rotate(-45 75.00 351.10)" class="xl">DMSO+Unifected</text>
<text x="94.68" y="351.10" font-size="8.08" text-anchor="end" font-weight="bold" fill="#111" transform="rotate(-45 94.68 351.10)" class="xl">5357859</text>
<text x="114.36" y="351.10" font-size="8.08" text-anchor="end" font-weight="bold" fill="#111" transform="rotate(-45 114.36 351.10)" class="xl">7819020</text>
<text x="134.04" y="351.10" font-size="8.08" text-anchor="end" font-weight="bold" fill="#111" transform="rotate(-45 134.04 351.10)" class="xl">5351234</text>
<text x="153.72" y="351.10" font-size="8.08" text-anchor="end" font-weight="bold" fill="#111" transform="rotate(-45 153.72 351.10)" class="xl">5354953</text>
<text x="36.00" y="286.60" font-size="8.6" text-anchor="middle" font-weight="bold" fill="#111" transform="rotate(-90 36.00 286.60)">%Gravid</text>
<text x="31.80" y="224.60" font-size="14.4" text-anchor="middle" font-weight="normal" fill="#111">E</text>
<text x="92.40" y="247.04" font-size="8.6" text-anchor="middle" font-weight="normal" fill="#222">ns</text>
<text x="112.10" y="245.84" font-size="8.6" text-anchor="middle" font-weight="normal" fill="#222">ns</text>
<text x="131.90" y="257.81" font-size="8.2" text-anchor="middle" font-weight="bold" fill="#222">**</text>
<text x="151.20" y="251.84" font-size="8.6" text-anchor="middle" font-weight="normal" fill="#222">ns</text>
<rect x="234.65" y="251.60" width="10.50" height="86.80" fill="#fff" stroke="#5f50ff" stroke-width="1.25"/>
<rect x="251.19" y="314.82" width="10.50" height="23.58" fill="#fff" stroke="#5f50ff" stroke-width="1.25"/>
<rect x="267.73" y="256.45" width="10.50" height="81.95" fill="#fff" stroke="#5f50ff" stroke-width="1.25"/>
<rect x="284.27" y="256.45" width="10.50" height="81.95" fill="#fff" stroke="#5f50ff" stroke-width="1.25"/>
<rect x="300.81" y="272.47" width="10.50" height="65.93" fill="#fff" stroke="#5f50ff" stroke-width="1.25"/>
<rect x="317.35" y="260.87" width="10.50" height="77.53" fill="#fff" stroke="#5f50ff" stroke-width="1.25"/>
<line x1="256.44" y1="304.43" x2="256.44" y2="326.08" stroke="#505050" stroke-width="0.8"/>
<line x1="253.81" y1="304.43" x2="259.06" y2="304.43" stroke="#505050" stroke-width="0.85"/>
<line x1="253.81" y1="326.08" x2="259.06" y2="326.08" stroke="#505050" stroke-width="0.85"/>
<path d="M255.24,304.83L257.64,304.83L256.44,302.73Z" fill="#555"/>
<path d="M255.24,317.82L257.64,317.82L256.44,315.72Z" fill="#555"/>
<path d="M255.24,326.08L257.64,326.08L256.44,323.98Z" fill="#555"/>
<line x1="272.98" y1="255.06" x2="272.98" y2="257.66" stroke="#505050" stroke-width="0.8"/>
<line x1="270.36" y1="255.06" x2="275.61" y2="255.06" stroke="#505050" stroke-width="0.85"/>
<line x1="270.36" y1="257.66" x2="275.61" y2="257.66" stroke="#505050" stroke-width="0.85"/>
<line x1="289.52" y1="252.73" x2="289.52" y2="261.13" stroke="#505050" stroke-width="0.8"/>
<line x1="286.89" y1="252.73" x2="292.14" y2="252.73" stroke="#505050" stroke-width="0.85"/>
<line x1="286.89" y1="261.13" x2="292.14" y2="261.13" stroke="#505050" stroke-width="0.85"/>
<path d="M288.32,253.13L290.72,253.13L289.52,251.03Z" fill="#555"/>
<path d="M288.32,259.45L290.72,259.45L289.52,257.35Z" fill="#555"/>
<path d="M288.32,261.13L290.72,261.13L289.52,259.03Z" fill="#555"/>
<line x1="306.06" y1="258.79" x2="306.06" y2="285.55" stroke="#505050" stroke-width="0.8"/>
<line x1="303.44" y1="258.79" x2="308.69" y2="258.79" stroke="#505050" stroke-width="0.85"/>
<line x1="303.44" y1="285.55" x2="308.69" y2="285.55" stroke="#505050" stroke-width="0.85"/>
<path d="M304.86,259.19L307.26,259.19L306.06,257.09Z" fill="#555"/>
<path d="M304.86,275.47L307.26,275.47L306.06,273.37Z" fill="#555"/>
<path d="M304.86,285.55L307.26,285.55L306.06,283.45Z" fill="#555"/>
<line x1="322.60" y1="259.31" x2="322.60" y2="262.25" stroke="#505050" stroke-width="0.8"/>
<line x1="319.98" y1="259.31" x2="325.23" y2="259.31" stroke="#505050" stroke-width="0.85"/>
<line x1="319.98" y1="262.25" x2="325.23" y2="262.25" stroke="#505050" stroke-width="0.85"/>
<path d="M321.40,259.71L323.80,259.71L322.60,257.61Z" fill="#555"/>
<path d="M321.40,263.87L323.80,263.87L322.60,261.77Z" fill="#555"/>
<path d="M321.40,262.25L323.80,262.25L322.60,260.15Z" fill="#555"/>
<line x1="229.10" y1="233.00" x2="229.10" y2="339.02" stroke="#1a1a1a" stroke-width="1.25"/>
<line x1="228.47" y1="338.40" x2="334.50" y2="338.40" stroke="#1a1a1a" stroke-width="1.25"/>
<line x1="224.80" y1="338.40" x2="229.10" y2="338.40" stroke="#1a1a1a" stroke-width="1.25"/>
<text x="223.60" y="341.28" font-size="8.0" text-anchor="end" font-weight="bold" fill="#111">0</text>
<line x1="224.80" y1="316.50" x2="229.10" y2="316.50" stroke="#1a1a1a" stroke-width="1.25"/>
<text x="223.60" y="319.38" font-size="8.0" text-anchor="end" font-weight="bold" fill="#111">25</text>
<line x1="224.80" y1="294.60" x2="229.10" y2="294.60" stroke="#1a1a1a" stroke-width="1.25"/>
<text x="223.60" y="297.48" font-size="8.0" text-anchor="end" font-weight="bold" fill="#111">50</text>
<line x1="224.80" y1="272.70" x2="229.10" y2="272.70" stroke="#1a1a1a" stroke-width="1.25"/>
<text x="223.60" y="275.58" font-size="8.0" text-anchor="end" font-weight="bold" fill="#111">75</text>
<line x1="224.80" y1="250.80" x2="229.10" y2="250.80" stroke="#1a1a1a" stroke-width="1.25"/>
<text x="223.60" y="246.98" font-size="8.0" text-anchor="end" font-weight="bold" fill="#111">100</text>
<line x1="239.90" y1="338.40" x2="239.90" y2="342.70" stroke="#1a1a1a" stroke-width="1.25"/>
<line x1="256.44" y1="338.40" x2="256.44" y2="342.70" stroke="#1a1a1a" stroke-width="1.25"/>
<line x1="272.98" y1="338.40" x2="272.98" y2="342.70" stroke="#1a1a1a" stroke-width="1.25"/>
<line x1="289.52" y1="338.40" x2="289.52" y2="342.70" stroke="#1a1a1a" stroke-width="1.25"/>
<line x1="306.06" y1="338.40" x2="306.06" y2="342.70" stroke="#1a1a1a" stroke-width="1.25"/>
<line x1="322.60" y1="338.40" x2="322.60" y2="342.70" stroke="#1a1a1a" stroke-width="1.25"/>
<text x="242.60" y="350.40" font-size="8.07" text-anchor="end" font-weight="bold" fill="#111" transform="rotate(-45 242.60 350.40)" class="xl">DMSO+Unifected</text>
<text x="259.14" y="350.40" font-size="8.07" text-anchor="end" font-weight="bold" fill="#111" transform="rotate(-45 259.14 350.40)" class="xl">DMSO+Infected</text>
<text x="275.68" y="350.40" font-size="8.07" text-anchor="end" font-weight="bold" fill="#111" transform="rotate(-45 275.68 350.40)" class="xl">5357859</text>
<text x="292.22" y="350.40" font-size="8.07" text-anchor="end" font-weight="bold" fill="#111" transform="rotate(-45 292.22 350.40)" class="xl">7819020</text>
<text x="308.76" y="350.40" font-size="8.07" text-anchor="end" font-weight="bold" fill="#111" transform="rotate(-45 308.76 350.40)" class="xl">5351234</text>
<text x="325.30" y="350.40" font-size="8.07" text-anchor="end" font-weight="bold" fill="#111" transform="rotate(-45 325.30 350.40)" class="xl">5354953</text>
<text x="204.50" y="287.00" font-size="8.4" text-anchor="middle" font-weight="bold" fill="#111" transform="rotate(-90 204.50 287.00)">%Gravid</text>
<text x="199.90" y="224.60" font-size="14.4" text-anchor="middle" font-weight="normal" fill="#111">F</text>
<text x="256.60" y="302.01" font-size="8.2" text-anchor="middle" font-weight="bold" fill="#222">****</text>
<text x="273.00" y="242.54" font-size="8.6" text-anchor="middle" font-weight="normal" fill="#222">ns</text>
<text x="289.30" y="241.34" font-size="8.6" text-anchor="middle" font-weight="normal" fill="#222">ns</text>
<text x="289.30" y="249.65" font-size="5" text-anchor="middle" font-weight="bold" fill="#222">*</text>
<text x="306.30" y="248.81" font-size="8.2" text-anchor="middle" font-weight="bold" fill="#222">*</text>
<text x="322.60" y="246.24" font-size="8.6" text-anchor="middle" font-weight="normal" fill="#222">ns</text>
<line x1="237.50" y1="243.60" x2="242.50" y2="243.60" stroke="#666" stroke-width="1.0"/>
<rect x="394.70" y="247.20" width="13.00" height="89.50" fill="#fff" stroke="#5f50ff" stroke-width="1.25"/>
<rect x="414.90" y="332.97" width="13.00" height="3.73" fill="#fff" stroke="#5f50ff" stroke-width="1.25"/>
<rect x="435.10" y="324.24" width="13.00" height="12.46" fill="#fff" stroke="#5f50ff" stroke-width="1.25"/>
<rect x="455.30" y="336.12" width="13.00" height="0.58" fill="#fff" stroke="#5f50ff" stroke-width="1.25"/>
<line x1="401.20" y1="246.93" x2="401.20" y2="247.47" stroke="#9a9a9a" stroke-width="0.8"/>
<line x1="397.95" y1="246.93" x2="404.45" y2="246.93" stroke="#9a9a9a" stroke-width="0.85"/>
<line x1="397.95" y1="247.47" x2="404.45" y2="247.47" stroke="#9a9a9a" stroke-width="0.85"/>
<line x1="421.40" y1="330.27" x2="421.40" y2="335.67" stroke="#8a80ff" stroke-width="0.8"/>
<line x1="418.15" y1="330.27" x2="424.65" y2="330.27" stroke="#8a80ff" stroke-width="0.85"/>
<line x1="418.15" y1="335.67" x2="424.65" y2="335.67" stroke="#8a80ff" stroke-width="0.85"/>
<path d="M420.20,330.67L422.60,330.67L421.40,328.57Z" fill="#555"/>
<path d="M420.20,335.97L422.60,335.97L421.40,333.87Z" fill="#555"/>
<path d="M420.20,335.67L422.60,335.67L421.40,333.57Z" fill="#555"/>
<line x1="441.60" y1="313.71" x2="441.60" y2="333.96" stroke="#8a80ff" stroke-width="0.8"/>
<line x1="438.35" y1="313.71" x2="444.85" y2="313.71" stroke="#8a80ff" stroke-width="0.85"/>
<line x1="438.35" y1="333.96" x2="444.85" y2="333.96" stroke="#8a80ff" stroke-width="0.85"/>
<path d="M440.40,314.11L442.80,314.11L441.60,312.01Z" fill="#555"/>
<path d="M440.40,327.24L442.80,327.24L441.60,325.14Z" fill="#555"/>
<path d="M440.40,333.96L442.80,333.96L441.60,331.86Z" fill="#555"/>
<line x1="461.80" y1="333.96" x2="461.80" y2="337.20" stroke="#8a80ff" stroke-width="0.8"/>
<line x1="458.55" y1="333.96" x2="465.05" y2="333.96" stroke="#8a80ff" stroke-width="0.85"/>
<line x1="458.55" y1="337.20" x2="465.05" y2="337.20" stroke="#8a80ff" stroke-width="0.85"/>
<path d="M460.60,334.36L463.00,334.36L461.80,332.26Z" fill="#555"/>
<path d="M460.60,339.12L463.00,339.12L461.80,337.02Z" fill="#555"/>
<path d="M460.60,337.20L463.00,337.20L461.80,335.10Z" fill="#555"/>
<line x1="482.00" y1="336.75" x2="482.00" y2="337.20" stroke="#9a9a9a" stroke-width="0.8"/>
<line x1="478.75" y1="336.75" x2="485.25" y2="336.75" stroke="#9a9a9a" stroke-width="0.85"/>
<line x1="478.75" y1="337.20" x2="485.25" y2="337.20" stroke="#9a9a9a" stroke-width="0.85"/>
<line x1="387.20" y1="228.80" x2="387.20" y2="337.32" stroke="#1a1a1a" stroke-width="1.25"/>
<line x1="386.57" y1="336.70" x2="496.00" y2="336.70" stroke="#1a1a1a" stroke-width="1.25"/>
<line x1="382.90" y1="336.70" x2="387.20" y2="336.70" stroke="#1a1a1a" stroke-width="1.25"/>
<text x="381.70" y="339.40" font-size="7.5" text-anchor="end" font-weight="bold" fill="#111">0</text>
<line x1="382.90" y1="314.35" x2="387.20" y2="314.35" stroke="#1a1a1a" stroke-width="1.25"/>
<text x="381.70" y="317.05" font-size="7.5" text-anchor="end" font-weight="bold" fill="#111">25</text>
<line x1="382.90" y1="292.00" x2="387.20" y2="292.00" stroke="#1a1a1a" stroke-width="1.25"/>
<text x="381.70" y="294.70" font-size="7.5" text-anchor="end" font-weight="bold" fill="#111">50</text>
<line x1="382.90" y1="269.65" x2="387.20" y2="269.65" stroke="#1a1a1a" stroke-width="1.25"/>
<text x="381.70" y="272.35" font-size="7.5" text-anchor="end" font-weight="bold" fill="#111">75</text>
<line x1="382.90" y1="247.30" x2="387.20" y2="247.30" stroke="#1a1a1a" stroke-width="1.25"/>
<text x="381.70" y="250.00" font-size="7.5" text-anchor="end" font-weight="bold" fill="#111">100</text>
<line x1="401.20" y1="336.70" x2="401.20" y2="341.00" stroke="#1a1a1a" stroke-width="1.25"/>
<line x1="421.40" y1="336.70" x2="421.40" y2="341.00" stroke="#1a1a1a" stroke-width="1.25"/>
<line x1="441.60" y1="336.70" x2="441.60" y2="341.00" stroke="#1a1a1a" stroke-width="1.25"/>
<line x1="461.80" y1="336.70" x2="461.80" y2="341.00" stroke="#1a1a1a" stroke-width="1.25"/>
<line x1="482.00" y1="336.70" x2="482.00" y2="341.00" stroke="#1a1a1a" stroke-width="1.25"/>
<text x="402.70" y="348.70" font-size="8.16" text-anchor="end" font-weight="bold" fill="#111" transform="rotate(-45 402.70 348.70)" class="xl">DMSO+Infected</text>
<text x="422.90" y="348.70" font-size="8.16" text-anchor="end" font-weight="bold" fill="#111" transform="rotate(-45 422.90 348.70)" class="xl">5357859</text>
<text x="443.10" y="348.70" font-size="8.16" text-anchor="end" font-weight="bold" fill="#111" transform="rotate(-45 443.10 348.70)" class="xl">7819020</text>
<text x="463.30" y="348.70" font-size="8.16" text-anchor="end" font-weight="bold" fill="#111" transform="rotate(-45 463.30 348.70)" class="xl">5351234</text>
<text x="483.50" y="348.70" font-size="8.16" text-anchor="end" font-weight="bold" fill="#111" transform="rotate(-45 483.50 348.70)" class="xl">5354953</text>
<text x="364.00" y="282.70" font-size="8.8" text-anchor="middle" font-weight="bold" fill="#111" transform="rotate(-90 364.00 282.70)">%Infected</text>
<text x="363.00" y="224.20" font-size="14.4" text-anchor="middle" font-weight="normal" fill="#111">G</text>
<text x="421.10" y="327.51" font-size="8.2" text-anchor="middle" font-weight="bold" fill="#222">****</text>
<text x="441.60" y="310.31" font-size="8.2" text-anchor="middle" font-weight="bold" fill="#222">****</text>
<text x="461.90" y="333.11" font-size="8.2" text-anchor="middle" font-weight="bold" fill="#222">****</text>
<text x="482.00" y="333.81" font-size="8.2" text-anchor="middle" font-weight="bold" fill="#222">****</text>
<rect x="566.20" y="318.33" width="11.80" height="19.57" fill="#fff" stroke="#5f50ff" stroke-width="1.25"/>
<rect x="585.50" y="242.61" width="11.80" height="95.29" fill="#fff" stroke="#5f50ff" stroke-width="1.25"/>
<rect x="604.80" y="261.36" width="11.80" height="76.54" fill="#fff" stroke="#5f50ff" stroke-width="1.25"/>
<rect x="624.10" y="268.39" width="11.80" height="69.51" fill="#fff" stroke="#5f50ff" stroke-width="1.25"/>
<rect x="643.40" y="262.79" width="11.80" height="75.11" fill="#fff" stroke="#5f50ff" stroke-width="1.25"/>
<rect x="662.70" y="253.42" width="11.80" height="84.48" fill="#fff" stroke="#5f50ff" stroke-width="1.25"/>
<line x1="572.10" y1="314.76" x2="572.10" y2="321.18" stroke="#505050" stroke-width="0.8"/>
<line x1="569.15" y1="314.76" x2="575.05" y2="314.76" stroke="#505050" stroke-width="0.85"/>
<line x1="569.15" y1="321.18" x2="575.05" y2="321.18" stroke="#505050" stroke-width="0.85"/>
<path d="M570.90,315.16L573.30,315.16L572.10,313.06Z" fill="#555"/>
<path d="M570.90,321.33L573.30,321.33L572.10,319.23Z" fill="#555"/>
<path d="M570.90,321.18L573.30,321.18L572.10,319.08Z" fill="#555"/>
<line x1="591.40" y1="240.68" x2="591.40" y2="244.55" stroke="#505050" stroke-width="0.8"/>
<line x1="588.45" y1="240.68" x2="594.35" y2="240.68" stroke="#505050" stroke-width="0.85"/>
<line x1="588.45" y1="244.55" x2="594.35" y2="244.55" stroke="#505050" stroke-width="0.85"/>
<path d="M590.20,241.08L592.60,241.08L591.40,238.98Z" fill="#555"/>
<path d="M590.20,245.61L592.60,245.61L591.40,243.51Z" fill="#555"/>
<path d="M590.20,244.55L592.60,244.55L591.40,242.45Z" fill="#555"/>
<line x1="610.70" y1="256.06" x2="610.70" y2="264.93" stroke="#505050" stroke-width="0.8"/>
<line x1="607.75" y1="256.06" x2="613.65" y2="256.06" stroke="#505050" stroke-width="0.85"/>
<line x1="607.75" y1="264.93" x2="613.65" y2="264.93" stroke="#505050" stroke-width="0.85"/>
<path d="M609.50,256.46L611.90,256.46L610.70,254.36Z" fill="#555"/>
<path d="M609.50,264.36L611.90,264.36L610.70,262.26Z" fill="#555"/>
<path d="M609.50,264.93L611.90,264.93L610.70,262.83Z" fill="#555"/>
<line x1="630.00" y1="261.36" x2="630.00" y2="274.30" stroke="#505050" stroke-width="0.8"/>
<line x1="627.05" y1="261.36" x2="632.95" y2="261.36" stroke="#505050" stroke-width="0.85"/>
<line x1="627.05" y1="274.30" x2="632.95" y2="274.30" stroke="#505050" stroke-width="0.85"/>
<path d="M628.80,261.76L631.20,261.76L630.00,259.66Z" fill="#555"/>
<path d="M628.80,271.39L631.20,271.39L630.00,269.29Z" fill="#555"/>
<path d="M628.80,274.30L631.20,274.30L630.00,272.20Z" fill="#555"/>
<line x1="649.30" y1="260.85" x2="649.30" y2="264.62" stroke="#505050" stroke-width="0.8"/>
<line x1="646.35" y1="260.85" x2="652.25" y2="260.85" stroke="#505050" stroke-width="0.85"/>
<line x1="646.35" y1="264.62" x2="652.25" y2="264.62" stroke="#505050" stroke-width="0.85"/>
<path d="M648.10,261.25L650.50,261.25L649.30,259.15Z" fill="#555"/>
<path d="M648.10,265.79L650.50,265.79L649.30,263.69Z" fill="#555"/>
<path d="M648.10,264.62L650.50,264.62L649.30,262.52Z" fill="#555"/>
<line x1="668.60" y1="250.77" x2="668.60" y2="256.06" stroke="#505050" stroke-width="0.8"/>
<line x1="665.65" y1="250.77" x2="671.55" y2="250.77" stroke="#505050" stroke-width="0.85"/>
<line x1="665.65" y1="256.06" x2="671.55" y2="256.06" stroke="#505050" stroke-width="0.85"/>
<path d="M667.40,251.17L669.80,251.17L668.60,249.07Z" fill="#555"/>
<path d="M667.40,256.42L669.80,256.42L668.60,254.32Z" fill="#555"/>
<path d="M667.40,256.06L669.80,256.06L668.60,253.96Z" fill="#555"/>
<line x1="560.00" y1="216.60" x2="560.00" y2="338.52" stroke="#1a1a1a" stroke-width="1.25"/>
<line x1="559.38" y1="337.90" x2="682.90" y2="337.90" stroke="#1a1a1a" stroke-width="1.25"/>
<line x1="555.10" y1="337.90" x2="560.00" y2="337.90" stroke="#1a1a1a" stroke-width="1.25"/>
<text x="553.90" y="341.21" font-size="9.2" text-anchor="end" font-weight="bold" fill="#111">0</text>
<line x1="555.10" y1="312.45" x2="560.00" y2="312.45" stroke="#1a1a1a" stroke-width="1.25"/>
<text x="553.90" y="315.76" font-size="9.2" text-anchor="end" font-weight="bold" fill="#111">25</text>
<line x1="555.10" y1="287.00" x2="560.00" y2="287.00" stroke="#1a1a1a" stroke-width="1.25"/>
<text x="553.90" y="290.31" font-size="9.2" text-anchor="end" font-weight="bold" fill="#111">50</text>
<line x1="555.10" y1="261.55" x2="560.00" y2="261.55" stroke="#1a1a1a" stroke-width="1.25"/>
<text x="553.90" y="264.86" font-size="9.2" text-anchor="end" font-weight="bold" fill="#111">75</text>
<line x1="555.10" y1="236.10" x2="560.00" y2="236.10" stroke="#1a1a1a" stroke-width="1.25"/>
<text x="553.90" y="239.41" font-size="9.2" text-anchor="end" font-weight="bold" fill="#111">100</text>
<line x1="572.10" y1="337.90" x2="572.10" y2="342.80" stroke="#1a1a1a" stroke-width="1.25"/>
<line x1="591.40" y1="337.90" x2="591.40" y2="342.80" stroke="#1a1a1a" stroke-width="1.25"/>
<line x1="610.70" y1="337.90" x2="610.70" y2="342.80" stroke="#1a1a1a" stroke-width="1.25"/>
<line x1="630.00" y1="337.90" x2="630.00" y2="342.80" stroke="#1a1a1a" stroke-width="1.25"/>
<line x1="649.30" y1="337.90" x2="649.30" y2="342.80" stroke="#1a1a1a" stroke-width="1.25"/>
<line x1="668.60" y1="337.90" x2="668.60" y2="342.80" stroke="#1a1a1a" stroke-width="1.25"/>
<text x="574.80" y="351.90" font-size="9.25" text-anchor="end" font-weight="bold" fill="#111" transform="rotate(-45 574.80 351.90)" class="xl">Spore prep.</text>
<text x="594.10" y="351.90" font-size="9.25" text-anchor="end" font-weight="bold" fill="#111" transform="rotate(-45 594.10 351.90)" class="xl">Acetone</text>
<text x="613.40" y="351.90" font-size="9.25" text-anchor="end" font-weight="bold" fill="#111" transform="rotate(-45 613.40 351.90)" class="xl">5357859</text>
<text x="632.70" y="351.90" font-size="9.25" text-anchor="end" font-weight="bold" fill="#111" transform="rotate(-45 632.70 351.90)" class="xl">7819020</text>
<text x="652.00" y="351.90" font-size="9.25" text-anchor="end" font-weight="bold" fill="#111" transform="rotate(-45 652.00 351.90)" class="xl">5351234</text>
<text x="671.30" y="351.90" font-size="9.25" text-anchor="end" font-weight="bold" fill="#111" transform="rotate(-45 671.30 351.90)" class="xl">5354953</text>
<text x="534.00" y="276.50" font-size="10" text-anchor="middle" font-weight="bold" fill="#111" transform="rotate(-90 534.00 276.50)">%Mortality</text>
<text x="528.80" y="224.20" font-size="14.4" text-anchor="middle" font-weight="normal" fill="#111">H</text>
<text x="640.00" y="192.30" font-size="9.6" text-anchor="middle" font-weight="normal" fill="#222">ns</text>
<text x="649.30" y="209.01" font-size="8.2" text-anchor="middle" font-weight="bold" fill="#222">**</text>
<text x="630.60" y="226.60" font-size="9.6" text-anchor="middle" font-weight="normal" fill="#222">ns</text>
<text x="621.20" y="243.30" font-size="9.6" text-anchor="middle" font-weight="normal" fill="#222">ns</text>
<polyline points="611.00,200.60 611.00,195.70 668.60,195.70 668.60,200.60" fill="none" stroke="#555" stroke-width="0.9"/>
<polyline points="630.60,216.40 630.60,211.00 668.60,211.00 668.60,216.40" fill="none" stroke="#555" stroke-width="0.9"/>
<polyline points="611.00,234.60 611.00,229.20 649.30,229.20 649.30,234.60" fill="none" stroke="#555" stroke-width="0.9"/>
<polyline points="611.00,251.20 611.00,246.10 630.60,246.10 630.60,251.20" fill="none" stroke="#555" stroke-width="0.9"/>
<rect x="66.85" y="451.10" width="12.50" height="87.20" fill="#fff" stroke="#b95ef2" stroke-width="1.25"/>
<rect x="86.65" y="459.49" width="12.50" height="78.81" fill="#fff" stroke="#b95ef2" stroke-width="1.25"/>
<rect x="106.45" y="456.08" width="12.50" height="82.22" fill="#fff" stroke="#b95ef2" stroke-width="1.25"/>
<rect x="126.25" y="479.59" width="12.50" height="58.71" fill="#fff" stroke="#b95ef2" stroke-width="1.25"/>
<rect x="146.05" y="471.64" width="12.50" height="66.66" fill="#fff" stroke="#b95ef2" stroke-width="1.25"/>
<line x1="73.10" y1="450.84" x2="73.10" y2="451.36" stroke="#9a9a9a" stroke-width="0.8"/>
<line x1="69.97" y1="450.84" x2="76.22" y2="450.84" stroke="#9a9a9a" stroke-width="0.85"/>
<line x1="69.97" y1="451.36" x2="76.22" y2="451.36" stroke="#9a9a9a" stroke-width="0.85"/>
<line x1="92.90" y1="451.10" x2="92.90" y2="467.79" stroke="#505050" stroke-width="0.8"/>
<line x1="89.77" y1="451.10" x2="96.02" y2="451.10" stroke="#505050" stroke-width="0.85"/>
<line x1="89.77" y1="467.79" x2="96.02" y2="467.79" stroke="#505050" stroke-width="0.85"/>
<path d="M91.70,451.50L94.10,451.50L92.90,449.40Z" fill="#555"/>
<path d="M91.70,462.49L94.10,462.49L92.90,460.39Z" fill="#555"/>
<path d="M91.70,467.79L94.10,467.79L92.90,465.69Z" fill="#555"/>
<line x1="112.70" y1="450.58" x2="112.70" y2="461.59" stroke="#505050" stroke-width="0.8"/>
<line x1="109.57" y1="450.58" x2="115.82" y2="450.58" stroke="#505050" stroke-width="0.85"/>
<line x1="109.57" y1="461.59" x2="115.82" y2="461.59" stroke="#505050" stroke-width="0.85"/>
<path d="M111.50,450.98L113.90,450.98L112.70,448.88Z" fill="#555"/>
<path d="M111.50,459.08L113.90,459.08L112.70,456.98Z" fill="#555"/>
<path d="M111.50,461.59L113.90,461.59L112.70,459.49Z" fill="#555"/>
<line x1="132.50" y1="475.40" x2="132.50" y2="483.44" stroke="#505050" stroke-width="0.8"/>
<line x1="129.38" y1="475.40" x2="135.62" y2="475.40" stroke="#505050" stroke-width="0.85"/>
<line x1="129.38" y1="483.44" x2="135.62" y2="483.44" stroke="#505050" stroke-width="0.85"/>
<path d="M131.30,475.80L133.70,475.80L132.50,473.70Z" fill="#555"/>
<path d="M131.30,482.59L133.70,482.59L132.50,480.49Z" fill="#555"/>
<path d="M131.30,483.44L133.70,483.44L132.50,481.34Z" fill="#555"/>
<line x1="152.30" y1="461.33" x2="152.30" y2="481.17" stroke="#505050" stroke-width="0.8"/>
<line x1="149.18" y1="461.33" x2="155.43" y2="461.33" stroke="#505050" stroke-width="0.85"/>
<line x1="149.18" y1="481.17" x2="155.43" y2="481.17" stroke="#505050" stroke-width="0.85"/>
<path d="M151.10,461.73L153.50,461.73L152.30,459.63Z" fill="#555"/>
<path d="M151.10,474.64L153.50,474.64L152.30,472.54Z" fill="#555"/>
<path d="M151.10,481.17L153.50,481.17L152.30,479.07Z" fill="#555"/>
<line x1="60.20" y1="433.00" x2="60.20" y2="538.92" stroke="#1a1a1a" stroke-width="1.25"/>
<line x1="59.58" y1="538.30" x2="166.00" y2="538.30" stroke="#1a1a1a" stroke-width="1.25"/>
<line x1="55.90" y1="538.30" x2="60.20" y2="538.30" stroke="#1a1a1a" stroke-width="1.25"/>
<text x="54.70" y="541.00" font-size="7.5" text-anchor="end" font-weight="bold" fill="#111">0</text>
<line x1="55.90" y1="516.52" x2="60.20" y2="516.52" stroke="#1a1a1a" stroke-width="1.25"/>
<text x="54.70" y="519.23" font-size="7.5" text-anchor="end" font-weight="bold" fill="#111">25</text>
<line x1="55.90" y1="494.75" x2="60.20" y2="494.75" stroke="#1a1a1a" stroke-width="1.25"/>
<text x="54.70" y="497.45" font-size="7.5" text-anchor="end" font-weight="bold" fill="#111">50</text>
<line x1="55.90" y1="472.97" x2="60.20" y2="472.97" stroke="#1a1a1a" stroke-width="1.25"/>
<text x="54.70" y="475.67" font-size="7.5" text-anchor="end" font-weight="bold" fill="#111">75</text>
<line x1="55.90" y1="451.20" x2="60.20" y2="451.20" stroke="#1a1a1a" stroke-width="1.25"/>
<text x="54.70" y="453.90" font-size="7.5" text-anchor="end" font-weight="bold" fill="#111">100</text>
<line x1="73.10" y1="538.30" x2="73.10" y2="542.60" stroke="#1a1a1a" stroke-width="1.25"/>
<line x1="92.90" y1="538.30" x2="92.90" y2="542.60" stroke="#1a1a1a" stroke-width="1.25"/>
<line x1="112.70" y1="538.30" x2="112.70" y2="542.60" stroke="#1a1a1a" stroke-width="1.25"/>
<line x1="132.50" y1="538.30" x2="132.50" y2="542.60" stroke="#1a1a1a" stroke-width="1.25"/>
<line x1="152.30" y1="538.30" x2="152.30" y2="542.60" stroke="#1a1a1a" stroke-width="1.25"/>
<text x="75.00" y="550.30" font-size="7.86" text-anchor="end" font-weight="bold" fill="#111" transform="rotate(-45 75.00 550.30)" class="xl">DMSO+Unifected</text>
<text x="94.80" y="550.30" font-size="7.86" text-anchor="end" font-weight="bold" fill="#111" transform="rotate(-45 94.80 550.30)" class="xl">5357859</text>
<text x="114.60" y="550.30" font-size="7.86" text-anchor="end" font-weight="bold" fill="#111" transform="rotate(-45 114.60 550.30)" class="xl">7819020</text>
<text x="134.40" y="550.30" font-size="7.86" text-anchor="end" font-weight="bold" fill="#111" transform="rotate(-45 134.40 550.30)" class="xl">5351234</text>
<text x="154.20" y="550.30" font-size="7.86" text-anchor="end" font-weight="bold" fill="#111" transform="rotate(-45 154.20 550.30)" class="xl">5354953</text>
<text x="36.00" y="485.70" font-size="8.6" text-anchor="middle" font-weight="bold" fill="#111" transform="rotate(-90 36.00 485.70)">%Gravid</text>
<text x="31.40" y="419.20" font-size="14.4" text-anchor="middle" font-weight="normal" fill="#111">I</text>
<text x="92.80" y="446.54" font-size="8.6" text-anchor="middle" font-weight="normal" fill="#222">ns</text>
<text x="112.70" y="445.54" font-size="8.6" text-anchor="middle" font-weight="normal" fill="#222">ns</text>
<text x="132.40" y="473.11" font-size="8.2" text-anchor="middle" font-weight="bold" fill="#222">**</text>
<text x="152.50" y="459.01" font-size="8.2" text-anchor="middle" font-weight="bold" fill="#222">*</text>
<rect x="235.00" y="450.90" width="10.60" height="86.90" fill="#fff" stroke="#b95ef2" stroke-width="1.25"/>
<rect x="251.58" y="514.92" width="10.60" height="22.88" fill="#fff" stroke="#b95ef2" stroke-width="1.25"/>
<rect x="268.16" y="461.87" width="10.60" height="75.93" fill="#fff" stroke="#b95ef2" stroke-width="1.25"/>
<rect x="284.74" y="459.70" width="10.60" height="78.10" fill="#fff" stroke="#b95ef2" stroke-width="1.25"/>
<rect x="301.32" y="503.86" width="10.60" height="33.94" fill="#fff" stroke="#b95ef2" stroke-width="1.25"/>
<rect x="317.90" y="473.20" width="10.60" height="64.60" fill="#fff" stroke="#b95ef2" stroke-width="1.25"/>
<line x1="240.30" y1="450.64" x2="240.30" y2="451.16" stroke="#9a9a9a" stroke-width="0.8"/>
<line x1="237.65" y1="450.64" x2="242.95" y2="450.64" stroke="#9a9a9a" stroke-width="0.85"/>
<line x1="237.65" y1="451.16" x2="242.95" y2="451.16" stroke="#9a9a9a" stroke-width="0.85"/>
<line x1="256.88" y1="504.64" x2="256.88" y2="525.54" stroke="#505050" stroke-width="0.8"/>
<line x1="254.23" y1="504.64" x2="259.53" y2="504.64" stroke="#505050" stroke-width="0.85"/>
<line x1="254.23" y1="525.54" x2="259.53" y2="525.54" stroke="#505050" stroke-width="0.85"/>
<path d="M255.68,505.04L258.08,505.04L256.88,502.94Z" fill="#555"/>
<path d="M255.68,517.92L258.08,517.92L256.88,515.82Z" fill="#555"/>
<path d="M255.68,525.54L258.08,525.54L256.88,523.44Z" fill="#555"/>
<line x1="273.46" y1="450.73" x2="273.46" y2="473.20" stroke="#505050" stroke-width="0.8"/>
<line x1="270.81" y1="450.73" x2="276.11" y2="450.73" stroke="#505050" stroke-width="0.85"/>
<line x1="270.81" y1="473.20" x2="276.11" y2="473.20" stroke="#505050" stroke-width="0.85"/>
<path d="M272.26,451.13L274.66,451.13L273.46,449.03Z" fill="#555"/>
<path d="M272.26,464.87L274.66,464.87L273.46,462.77Z" fill="#555"/>
<path d="M272.26,473.20L274.66,473.20L273.46,471.10Z" fill="#555"/>
<line x1="290.04" y1="452.12" x2="290.04" y2="466.23" stroke="#505050" stroke-width="0.8"/>
<line x1="287.39" y1="452.12" x2="292.69" y2="452.12" stroke="#505050" stroke-width="0.85"/>
<line x1="287.39" y1="466.23" x2="292.69" y2="466.23" stroke="#505050" stroke-width="0.85"/>
<path d="M288.84,452.52L291.24,452.52L290.04,450.42Z" fill="#555"/>
<path d="M288.84,462.70L291.24,462.70L290.04,460.60Z" fill="#555"/>
<path d="M288.84,466.23L291.24,466.23L290.04,464.13Z" fill="#555"/>
<line x1="306.62" y1="491.23" x2="306.62" y2="516.49" stroke="#505050" stroke-width="0.8"/>
<line x1="303.97" y1="491.23" x2="309.27" y2="491.23" stroke="#505050" stroke-width="0.85"/>
<line x1="303.97" y1="516.49" x2="309.27" y2="516.49" stroke="#505050" stroke-width="0.85"/>
<path d="M305.42,491.63L307.82,491.63L306.62,489.53Z" fill="#555"/>
<path d="M305.42,506.86L307.82,506.86L306.62,504.76Z" fill="#555"/>
<path d="M305.42,516.49L307.82,516.49L306.62,514.39Z" fill="#555"/>
<line x1="323.20" y1="465.97" x2="323.20" y2="479.56" stroke="#505050" stroke-width="0.8"/>
<line x1="320.55" y1="465.97" x2="325.85" y2="465.97" stroke="#505050" stroke-width="0.85"/>
<line x1="320.55" y1="479.56" x2="325.85" y2="479.56" stroke="#505050" stroke-width="0.85"/>
<path d="M322.00,466.37L324.40,466.37L323.20,464.27Z" fill="#555"/>
<path d="M322.00,476.20L324.40,476.20L323.20,474.10Z" fill="#555"/>
<path d="M322.00,479.56L324.40,479.56L323.20,477.46Z" fill="#555"/>
<line x1="229.50" y1="432.10" x2="229.50" y2="538.42" stroke="#1a1a1a" stroke-width="1.25"/>
<line x1="228.88" y1="537.80" x2="334.20" y2="537.80" stroke="#1a1a1a" stroke-width="1.25"/>
<line x1="225.20" y1="537.80" x2="229.50" y2="537.80" stroke="#1a1a1a" stroke-width="1.25"/>
<text x="224.00" y="540.68" font-size="8.0" text-anchor="end" font-weight="bold" fill="#111">0</text>
<line x1="225.20" y1="515.92" x2="229.50" y2="515.92" stroke="#1a1a1a" stroke-width="1.25"/>
<text x="224.00" y="518.80" font-size="8.0" text-anchor="end" font-weight="bold" fill="#111">25</text>
<line x1="225.20" y1="494.05" x2="229.50" y2="494.05" stroke="#1a1a1a" stroke-width="1.25"/>
<text x="224.00" y="496.93" font-size="8.0" text-anchor="end" font-weight="bold" fill="#111">50</text>
<line x1="225.20" y1="472.17" x2="229.50" y2="472.17" stroke="#1a1a1a" stroke-width="1.25"/>
<text x="224.00" y="475.05" font-size="8.0" text-anchor="end" font-weight="bold" fill="#111">75</text>
<line x1="225.20" y1="450.30" x2="229.50" y2="450.30" stroke="#1a1a1a" stroke-width="1.25"/>
<text x="224.00" y="453.18" font-size="8.0" text-anchor="end" font-weight="bold" fill="#111">100</text>
<line x1="240.30" y1="537.80" x2="240.30" y2="542.10" stroke="#1a1a1a" stroke-width="1.25"/>
<line x1="256.88" y1="537.80" x2="256.88" y2="542.10" stroke="#1a1a1a" stroke-width="1.25"/>
<line x1="273.46" y1="537.80" x2="273.46" y2="542.10" stroke="#1a1a1a" stroke-width="1.25"/>
<line x1="290.04" y1="537.80" x2="290.04" y2="542.10" stroke="#1a1a1a" stroke-width="1.25"/>
<line x1="306.62" y1="537.80" x2="306.62" y2="542.10" stroke="#1a1a1a" stroke-width="1.25"/>
<line x1="323.20" y1="537.80" x2="323.20" y2="542.10" stroke="#1a1a1a" stroke-width="1.25"/>
<text x="241.80" y="550.40" font-size="7.93" text-anchor="end" font-weight="bold" fill="#111" transform="rotate(-45 241.80 550.40)" class="xl">DMSO+Unifected</text>
<text x="258.38" y="550.40" font-size="7.93" text-anchor="end" font-weight="bold" fill="#111" transform="rotate(-45 258.38 550.40)" class="xl">DMSO+Infected</text>
<text x="274.96" y="550.40" font-size="7.93" text-anchor="end" font-weight="bold" fill="#111" transform="rotate(-45 274.96 550.40)" class="xl">5357859</text>
<text x="291.54" y="550.40" font-size="7.93" text-anchor="end" font-weight="bold" fill="#111" transform="rotate(-45 291.54 550.40)" class="xl">7819020</text>
<text x="308.12" y="550.40" font-size="7.93" text-anchor="end" font-weight="bold" fill="#111" transform="rotate(-45 308.12 550.40)" class="xl">5351234</text>
<text x="324.70" y="550.40" font-size="7.93" text-anchor="end" font-weight="bold" fill="#111" transform="rotate(-45 324.70 550.40)" class="xl">5354953</text>
<text x="205.00" y="485.00" font-size="8.4" text-anchor="middle" font-weight="bold" fill="#111" transform="rotate(-90 205.00 485.00)">%Gravid</text>
<text x="201.00" y="419.20" font-size="14.4" text-anchor="middle" font-weight="normal" fill="#111">J</text>
<text x="257.10" y="501.01" font-size="8.2" text-anchor="middle" font-weight="bold" fill="#222">****</text>
<text x="273.40" y="446.44" font-size="8.6" text-anchor="middle" font-weight="normal" fill="#222">ns</text>
<text x="289.80" y="448.04" font-size="8.6" text-anchor="middle" font-weight="normal" fill="#222">ns</text>
<text x="306.40" y="487.41" font-size="8.2" text-anchor="middle" font-weight="bold" fill="#222">****</text>
<text x="323.20" y="463.61" font-size="8.2" text-anchor="middle" font-weight="bold" fill="#222">*</text>
<rect x="396.05" y="447.60" width="12.90" height="89.90" fill="#fff" stroke="#b95ef2" stroke-width="1.25"/>
<rect x="436.25" y="535.80" width="12.90" height="1.70" fill="#fff" stroke="#b95ef2" stroke-width="1.25"/>
<line x1="402.50" y1="447.33" x2="402.50" y2="447.87" stroke="#9a9a9a" stroke-width="0.8"/>
<line x1="399.27" y1="447.33" x2="405.73" y2="447.33" stroke="#9a9a9a" stroke-width="0.85"/>
<line x1="399.27" y1="447.87" x2="405.73" y2="447.87" stroke="#9a9a9a" stroke-width="0.85"/>
<line x1="422.60" y1="537.24" x2="422.60" y2="537.60" stroke="#9a9a9a" stroke-width="0.8"/>
<line x1="419.38" y1="537.24" x2="425.83" y2="537.24" stroke="#9a9a9a" stroke-width="0.85"/>
<line x1="419.38" y1="537.60" x2="425.83" y2="537.60" stroke="#9a9a9a" stroke-width="0.85"/>
<line x1="442.70" y1="534.90" x2="442.70" y2="536.70" stroke="#c98af5" stroke-width="0.8"/>
<line x1="439.47" y1="534.90" x2="445.93" y2="534.90" stroke="#c98af5" stroke-width="0.85"/>
<line x1="439.47" y1="536.70" x2="445.93" y2="536.70" stroke="#c98af5" stroke-width="0.85"/>
<line x1="462.80" y1="537.24" x2="462.80" y2="537.60" stroke="#9a9a9a" stroke-width="0.8"/>
<line x1="459.57" y1="537.24" x2="466.03" y2="537.24" stroke="#9a9a9a" stroke-width="0.85"/>
<line x1="459.57" y1="537.60" x2="466.03" y2="537.60" stroke="#9a9a9a" stroke-width="0.85"/>
<line x1="482.90" y1="537.24" x2="482.90" y2="537.60" stroke="#9a9a9a" stroke-width="0.8"/>
<line x1="479.67" y1="537.24" x2="486.12" y2="537.24" stroke="#9a9a9a" stroke-width="0.85"/>
<line x1="479.67" y1="537.60" x2="486.12" y2="537.60" stroke="#9a9a9a" stroke-width="0.85"/>
<line x1="388.70" y1="429.40" x2="388.70" y2="538.12" stroke="#1a1a1a" stroke-width="1.25"/>
<line x1="388.07" y1="537.50" x2="497.00" y2="537.50" stroke="#1a1a1a" stroke-width="1.25"/>
<line x1="384.40" y1="537.50" x2="388.70" y2="537.50" stroke="#1a1a1a" stroke-width="1.25"/>
<text x="383.20" y="540.20" font-size="7.5" text-anchor="end" font-weight="bold" fill="#111">0</text>
<line x1="384.40" y1="514.92" x2="388.70" y2="514.92" stroke="#1a1a1a" stroke-width="1.25"/>
<text x="383.20" y="517.62" font-size="7.5" text-anchor="end" font-weight="bold" fill="#111">25</text>
<line x1="384.40" y1="492.35" x2="388.70" y2="492.35" stroke="#1a1a1a" stroke-width="1.25"/>
<text x="383.20" y="495.05" font-size="7.5" text-anchor="end" font-weight="bold" fill="#111">50</text>
<line x1="384.40" y1="469.77" x2="388.70" y2="469.77" stroke="#1a1a1a" stroke-width="1.25"/>
<text x="383.20" y="472.47" font-size="7.5" text-anchor="end" font-weight="bold" fill="#111">75</text>
<line x1="384.40" y1="447.20" x2="388.70" y2="447.20" stroke="#1a1a1a" stroke-width="1.25"/>
<text x="383.20" y="449.90" font-size="7.5" text-anchor="end" font-weight="bold" fill="#111">100</text>
<line x1="402.50" y1="537.50" x2="402.50" y2="541.80" stroke="#1a1a1a" stroke-width="1.25"/>
<line x1="422.60" y1="537.50" x2="422.60" y2="541.80" stroke="#1a1a1a" stroke-width="1.25"/>
<line x1="442.70" y1="537.50" x2="442.70" y2="541.80" stroke="#1a1a1a" stroke-width="1.25"/>
<line x1="462.80" y1="537.50" x2="462.80" y2="541.80" stroke="#1a1a1a" stroke-width="1.25"/>
<line x1="482.90" y1="537.50" x2="482.90" y2="541.80" stroke="#1a1a1a" stroke-width="1.25"/>
<text x="405.00" y="550.10" font-size="8.16" text-anchor="end" font-weight="bold" fill="#111" transform="rotate(-45 405.00 550.10)" class="xl">DMSO+Infected</text>
<text x="425.10" y="550.10" font-size="8.16" text-anchor="end" font-weight="bold" fill="#111" transform="rotate(-45 425.10 550.10)" class="xl">5357859</text>
<text x="445.20" y="550.10" font-size="8.16" text-anchor="end" font-weight="bold" fill="#111" transform="rotate(-45 445.20 550.10)" class="xl">7819020</text>
<text x="465.30" y="550.10" font-size="8.16" text-anchor="end" font-weight="bold" fill="#111" transform="rotate(-45 465.30 550.10)" class="xl">5351234</text>
<text x="485.40" y="550.10" font-size="8.16" text-anchor="end" font-weight="bold" fill="#111" transform="rotate(-45 485.40 550.10)" class="xl">5354953</text>
<text x="365.00" y="483.30" font-size="8.8" text-anchor="middle" font-weight="bold" fill="#111" transform="rotate(-90 365.00 483.30)">%Infected</text>
<text x="361.60" y="418.60" font-size="14.4" text-anchor="middle" font-weight="normal" fill="#111">K</text>
<text x="422.10" y="532.71" font-size="8.2" text-anchor="middle" font-weight="bold" fill="#222">****</text>
<text x="442.20" y="532.31" font-size="8.2" text-anchor="middle" font-weight="bold" fill="#222">****</text>
<text x="462.50" y="533.31" font-size="8.2" text-anchor="middle" font-weight="bold" fill="#222">****</text>
<text x="483.00" y="533.31" font-size="8.2" text-anchor="middle" font-weight="bold" fill="#222">****</text>
<rect x="567.30" y="519.41" width="12.00" height="18.09" fill="#fff" stroke="#b95ef2" stroke-width="1.25"/>
<rect x="586.28" y="443.73" width="12.00" height="93.77" fill="#fff" stroke="#b95ef2" stroke-width="1.25"/>
<rect x="605.26" y="449.86" width="12.00" height="87.64" fill="#fff" stroke="#b95ef2" stroke-width="1.25"/>
<rect x="624.24" y="459.91" width="12.00" height="77.59" fill="#fff" stroke="#b95ef2" stroke-width="1.25"/>
<rect x="643.22" y="451.87" width="12.00" height="85.63" fill="#fff" stroke="#b95ef2" stroke-width="1.25"/>
<rect x="662.20" y="447.75" width="12.00" height="89.75" fill="#fff" stroke="#b95ef2" stroke-width="1.25"/>
<line x1="573.30" y1="515.19" x2="573.30" y2="521.72" stroke="#505050" stroke-width="0.8"/>
<line x1="570.30" y1="515.19" x2="576.30" y2="515.19" stroke="#505050" stroke-width="0.85"/>
<line x1="570.30" y1="521.72" x2="576.30" y2="521.72" stroke="#505050" stroke-width="0.85"/>
<path d="M572.10,515.59L574.50,515.59L573.30,513.49Z" fill="#555"/>
<path d="M572.10,522.41L574.50,522.41L573.30,520.31Z" fill="#555"/>
<path d="M572.10,521.72L574.50,521.72L573.30,519.62Z" fill="#555"/>
<line x1="592.28" y1="442.02" x2="592.28" y2="445.44" stroke="#505050" stroke-width="0.8"/>
<line x1="589.28" y1="442.02" x2="595.28" y2="442.02" stroke="#505050" stroke-width="0.85"/>
<line x1="589.28" y1="445.44" x2="595.28" y2="445.44" stroke="#505050" stroke-width="0.85"/>
<path d="M591.08,442.42L593.48,442.42L592.28,440.32Z" fill="#555"/>
<path d="M591.08,446.73L593.48,446.73L592.28,444.63Z" fill="#555"/>
<path d="M591.08,445.44L593.48,445.44L592.28,443.34Z" fill="#555"/>
<line x1="611.26" y1="446.54" x2="611.26" y2="452.47" stroke="#505050" stroke-width="0.8"/>
<line x1="608.26" y1="446.54" x2="614.26" y2="446.54" stroke="#505050" stroke-width="0.85"/>
<line x1="608.26" y1="452.47" x2="614.26" y2="452.47" stroke="#505050" stroke-width="0.85"/>
<path d="M610.06,446.94L612.46,446.94L611.26,444.84Z" fill="#555"/>
<path d="M610.06,452.86L612.46,452.86L611.26,450.76Z" fill="#555"/>
<path d="M610.06,452.47L612.46,452.47L611.26,450.37Z" fill="#555"/>
<line x1="630.24" y1="455.29" x2="630.24" y2="464.63" stroke="#505050" stroke-width="0.8"/>
<line x1="627.24" y1="455.29" x2="633.24" y2="455.29" stroke="#505050" stroke-width="0.85"/>
<line x1="627.24" y1="464.63" x2="633.24" y2="464.63" stroke="#505050" stroke-width="0.85"/>
<path d="M629.04,455.69L631.44,455.69L630.24,453.59Z" fill="#555"/>
<path d="M629.04,462.91L631.44,462.91L630.24,460.81Z" fill="#555"/>
<path d="M629.04,464.63L631.44,464.63L630.24,462.53Z" fill="#555"/>
<line x1="649.22" y1="449.06" x2="649.22" y2="455.59" stroke="#505050" stroke-width="0.8"/>
<line x1="646.22" y1="449.06" x2="652.22" y2="449.06" stroke="#505050" stroke-width="0.85"/>
<line x1="646.22" y1="455.59" x2="652.22" y2="455.59" stroke="#505050" stroke-width="0.85"/>
<path d="M648.02,449.46L650.42,449.46L649.22,447.36Z" fill="#555"/>
<path d="M648.02,454.87L650.42,454.87L649.22,452.77Z" fill="#555"/>
<path d="M648.02,455.59L650.42,455.59L649.22,453.49Z" fill="#555"/>
<line x1="668.20" y1="444.53" x2="668.20" y2="449.76" stroke="#505050" stroke-width="0.8"/>
<line x1="665.20" y1="444.53" x2="671.20" y2="444.53" stroke="#505050" stroke-width="0.85"/>
<line x1="665.20" y1="449.76" x2="671.20" y2="449.76" stroke="#505050" stroke-width="0.85"/>
<path d="M667.00,444.93L669.40,444.93L668.20,442.83Z" fill="#555"/>
<path d="M667.00,450.75L669.40,450.75L668.20,448.65Z" fill="#555"/>
<path d="M667.00,449.76L669.40,449.76L668.20,447.66Z" fill="#555"/>
<line x1="560.50" y1="417.70" x2="560.50" y2="538.12" stroke="#1a1a1a" stroke-width="1.25"/>
<line x1="559.88" y1="537.50" x2="682.40" y2="537.50" stroke="#1a1a1a" stroke-width="1.25"/>
<line x1="555.60" y1="537.50" x2="560.50" y2="537.50" stroke="#1a1a1a" stroke-width="1.25"/>
<text x="554.40" y="540.81" font-size="9.2" text-anchor="end" font-weight="bold" fill="#111">0</text>
<line x1="555.60" y1="512.52" x2="560.50" y2="512.52" stroke="#1a1a1a" stroke-width="1.25"/>
<text x="554.40" y="515.84" font-size="9.2" text-anchor="end" font-weight="bold" fill="#111">25</text>
<line x1="555.60" y1="487.55" x2="560.50" y2="487.55" stroke="#1a1a1a" stroke-width="1.25"/>
<text x="554.40" y="490.86" font-size="9.2" text-anchor="end" font-weight="bold" fill="#111">50</text>
<line x1="555.60" y1="462.57" x2="560.50" y2="462.57" stroke="#1a1a1a" stroke-width="1.25"/>
<text x="554.40" y="465.89" font-size="9.2" text-anchor="end" font-weight="bold" fill="#111">75</text>
<line x1="555.60" y1="437.60" x2="560.50" y2="437.60" stroke="#1a1a1a" stroke-width="1.25"/>
<text x="554.40" y="440.91" font-size="9.2" text-anchor="end" font-weight="bold" fill="#111">100</text>
<line x1="573.30" y1="537.50" x2="573.30" y2="542.40" stroke="#1a1a1a" stroke-width="1.25"/>
<line x1="592.28" y1="537.50" x2="592.28" y2="542.40" stroke="#1a1a1a" stroke-width="1.25"/>
<line x1="611.26" y1="537.50" x2="611.26" y2="542.40" stroke="#1a1a1a" stroke-width="1.25"/>
<line x1="630.24" y1="537.50" x2="630.24" y2="542.40" stroke="#1a1a1a" stroke-width="1.25"/>
<line x1="649.22" y1="537.50" x2="649.22" y2="542.40" stroke="#1a1a1a" stroke-width="1.25"/>
<line x1="668.20" y1="537.50" x2="668.20" y2="542.40" stroke="#1a1a1a" stroke-width="1.25"/>
<text x="576.00" y="551.50" font-size="9.05" text-anchor="end" font-weight="bold" fill="#111" transform="rotate(-45 576.00 551.50)" class="xl">Spore prep.</text>
<text x="594.98" y="551.50" font-size="9.05" text-anchor="end" font-weight="bold" fill="#111" transform="rotate(-45 594.98 551.50)" class="xl">Acetone</text>
<text x="613.96" y="551.50" font-size="9.05" text-anchor="end" font-weight="bold" fill="#111" transform="rotate(-45 613.96 551.50)" class="xl">5357859</text>
<text x="632.94" y="551.50" font-size="9.05" text-anchor="end" font-weight="bold" fill="#111" transform="rotate(-45 632.94 551.50)" class="xl">7819020</text>
<text x="651.92" y="551.50" font-size="9.05" text-anchor="end" font-weight="bold" fill="#111" transform="rotate(-45 651.92 551.50)" class="xl">5351234</text>
<text x="670.90" y="551.50" font-size="9.05" text-anchor="end" font-weight="bold" fill="#111" transform="rotate(-45 670.90 551.50)" class="xl">5354953</text>
<text x="535.00" y="477.20" font-size="10" text-anchor="middle" font-weight="bold" fill="#111" transform="rotate(-90 535.00 477.20)">%Mortality</text>
<text x="531.20" y="419.20" font-size="14.4" text-anchor="middle" font-weight="normal" fill="#111">L</text>
<text x="639.70" y="384.00" font-size="9.6" text-anchor="middle" font-weight="normal" fill="#222">ns</text>
<text x="649.70" y="400.31" font-size="8.2" text-anchor="middle" font-weight="bold" fill="#222">**</text>
<text x="631.00" y="418.20" font-size="9.6" text-anchor="middle" font-weight="normal" fill="#222">ns</text>
<text x="621.20" y="434.51" font-size="8.2" text-anchor="middle" font-weight="bold" fill="#222">*</text>
<polyline points="612.10,392.10 612.10,387.00 668.70,387.00 668.70,392.10" fill="none" stroke="#555" stroke-width="0.9"/>
<polyline points="631.10,408.60 631.10,403.50 668.70,403.50 668.70,408.60" fill="none" stroke="#555" stroke-width="0.9"/>
<polyline points="612.10,426.30 612.10,420.60 649.10,420.60 649.10,426.30" fill="none" stroke="#555" stroke-width="0.9"/>
<polyline points="612.10,442.20 612.10,436.30 630.30,436.30 630.30,442.20" fill="none" stroke="#555" stroke-width="0.9"/>
<text x="109.70" y="11.90" font-size="15.2" text-anchor="middle" font-weight="normal" fill="#111">Spore-</text>
<text x="286.30" y="11.90" font-size="15.2" text-anchor="middle" font-weight="normal" fill="#111">Spore+</text>
<text x="456.00" y="11.90" font-size="15.2" text-anchor="middle" font-weight="normal" fill="#111">Spore+</text>
<text x="12.00" y="83.10" font-size="14.3" text-anchor="middle" font-weight="normal" fill="#f06a72" transform="rotate(-90 12.00 83.10)">15uM</text>
<text x="11.20" y="278.20" font-size="14.0" text-anchor="middle" font-weight="normal" fill="#6a5cff" transform="rotate(-90 11.20 278.20)">60uM</text>
<text x="9.30" y="477.50" font-size="11.4" text-anchor="middle" font-weight="normal" fill="#c070f0" transform="rotate(-90 9.30 477.50)">100uM</text>
</svg></body></html>
